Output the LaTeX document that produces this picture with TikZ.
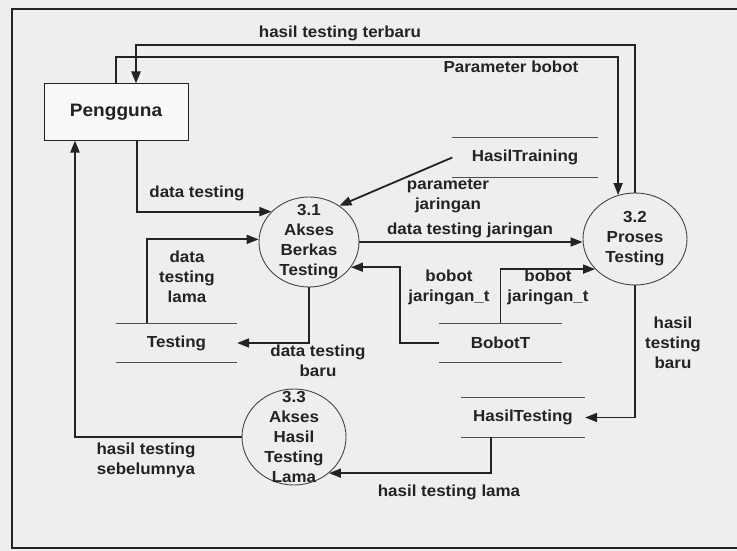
\documentclass[tikz,border=0pt]{standalone}
\usepackage{fontspec}
\setmainfont{Liberation Sans}[FakeStretch=1.06]
\usepackage{tikz}
\usetikzlibrary{calc, shapes.geometric, positioning, arrows.meta}
\newcommand\datastore[5]{\node[store, minimum width=#4] (#1) at (#2,#3) {#5};
	\draw[storeline] (#1.north west) -- (#1.north east) (#1.south west) -- (#1.south east);}
\newcommand\procbubble[6]{\node[proc, minimum width=#4, minimum height=#5] (#1) at (#2,#3) {};\node[proctext] (#1txt) at (#1) {#6};}
\definecolor{paper}{RGB}{238,238,238}
\definecolor{ink}{RGB}{35,35,35}

\begin{document}
\begin{tikzpicture}[x=1pt, y=-1pt, font=\bfseries\fontsize{16}{20}\selectfont, text=ink,
	flow/.style={draw=ink, line width=1.8pt, -{Triangle[length=12pt,width=9pt]}},
	store/.style={minimum height=39pt, inner sep=0pt},
	storeline/.style={draw=ink!80, line width=1pt},
	proc/.style={ellipse, draw=ink!85, line width=0.9pt, inner sep=0pt},
	proctext/.style={align=center, inner sep=0pt},
	lbl/.style={align=center, inner sep=1pt}]
	\useasboundingbox[fill=paper] (0,0) rectangle (737,551);
	\draw[draw=ink, line width=1.5pt] (12,9) rectangle (760,548);
	% entity, stores, processes
	\node[draw=ink, line width=1pt, fill=white!60!paper, minimum width=144pt, minimum height=56pt, inner sep=0pt, font=\bfseries\fontsize{18}{20}\selectfont] (peng) at (116,112) {Pengguna};
	\datastore{ht}{525}{157.5}{145pt}{HasilTraining}
	\datastore{ts}{176.5}{343}{121pt}{Testing}
	\datastore{bt}{500.5}{343}{123pt}{BobotT}
	\datastore{hte}{523}{417.5}{124pt}{HasilTesting}
	\procbubble{p31}{309}{242}{100pt}{90pt}{3.1\\Akses\\Berkas\\Testing}
	\procbubble{p32}{635}{239}{104pt}{92pt}{3.2\\Proses\\Testing}
	\procbubble{p33}{294}{437}{104pt}{96pt}{3.3\\Akses\\Hasil\\Testing\\Lama}
	% flows
	\draw[flow] (p32.north) -- (p32.north |- 0,45) -| ([xshift=20pt]peng.north);
	\draw[flow] (peng.north) -- (peng.north |- 0,57) -| (p32.111);
	\draw[flow] ([xshift=21pt]peng.south) |- (p31.141);
	\draw[flow] ([xshift=-29.5pt]ts.north) |- (p31.177);
	\draw[flow] (ht.west) -- (p31.50);
	\draw[flow] (p31.east) -- (p32.west |- p31.east);
	\draw[flow] (bt.west) -- ++(-39,0) |- (p31.329);
	\draw[flow] (bt.north) |- (p32.217);
	\draw[flow] (p31.south) |- (ts.east);
	\draw[flow] (p32.south) |- (hte.east);
	\draw[flow] ([xshift=-32pt]hte.south) |- (p33.314);
	\draw[flow] (p33.west) -| ([xshift=-41pt]peng.south);
	% flow labels
	\node[lbl] (lterbaru) at (340,33) {hasil testing terbaru};
	\node[lbl] (lparam) at (511,67) {Parameter bobot};
	\node[lbl] (ldata) at (197,193) {data testing};
	\node[lbl] (llama) at (187,277) {data\\testing\\lama};
	\node[lbl] (ljar) at (448,196) {parameter\\jaringan};
	\node[lbl] (ldtj) at (470,230) {data testing jaringan};
	\node[lbl] (lbob1) at (449,287) {bobot\\jaringan\_t};
	\node[lbl] (lbob2) at (548,287) {bobot\\jaringan\_t};
	\node[lbl] (lbaru) at (318,361) {data testing\\baru};
	\node[lbl] (lhbaru) at (673,343) {hasil\\testing\\baru};
	\node[lbl] (lhlama) at (449,492) {hasil testing lama};
	\node[lbl] (lsebel) at (146,460) {hasil testing\\sebelumnya};
\end{tikzpicture}
\end{document}
